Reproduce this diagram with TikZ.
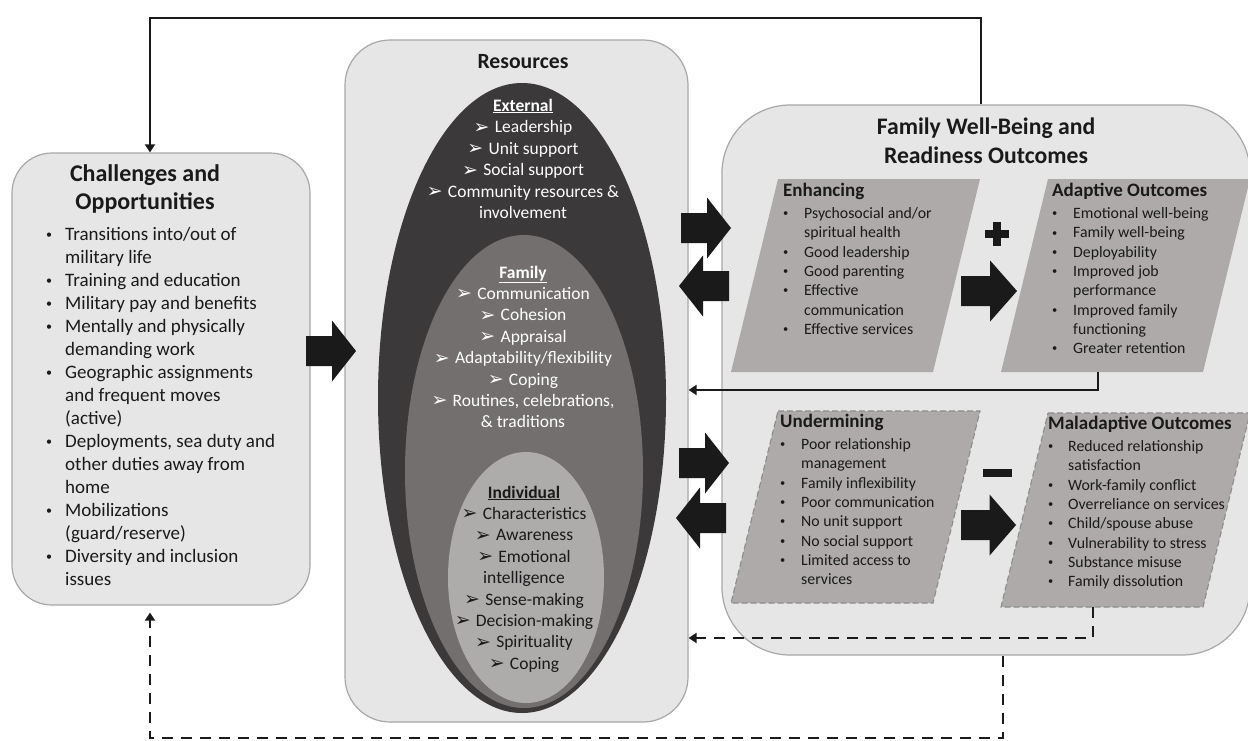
\documentclass[tikz,border=0pt]{standalone}
\usepackage{fontspec}
\setmainfont{Carlito}
\newfontfamily\symfont{DejaVu Sans}
\usetikzlibrary{arrows.meta}

\definecolor{boxfill}{HTML}{E6E6E6}
\definecolor{boxline}{HTML}{A8A8A8}
\definecolor{ringA}{HTML}{3B3939}
\definecolor{ringB}{HTML}{736F6F}
\definecolor{ringC}{HTML}{AEABAB}
\definecolor{panel}{HTML}{AEAAAA}
\definecolor{panelline}{HTML}{8C8C8C}
\definecolor{ink}{HTML}{1A1A1A}

% arrowhead bullet used in the resource lists
\newcommand{\arrbul}{\raisebox{-0.5pt}{\symfont\fontsize{19}{19}\selectfont ➢}\hspace{0.3em}}
% small round bullets for the plain lists
\newcommand{\bigbul}{\raisebox{2.4pt}{\fontsize{12}{12}\selectfont\textbullet}}
\newcommand{\smbul}{\raisebox{1.8pt}{\fontsize{10.5}{10.5}\selectfont\textbullet}}
\newcommand{\sectitle}[1]{\underline{\textbf{#1}}}

\tikzset{
  bigbox/.style={draw=boxline, line width=1.2pt, fill=boxfill, inner sep=0pt},
  panelsolid/.style={fill=panel},
  paneldash/.style={fill=panel, draw=panelline, line width=1.1pt, dash pattern=on 6pt off 3pt},
  txt/.style={inner sep=0pt, text=ink},
  fbsolid/.style={draw=ink, line width=2.8pt, -{Triangle[width=10pt,length=8pt]}},
  fbdash/.style={fbsolid, dash pattern=on 11pt off 8pt},
  blockarrow/.pic={\fill[ink] (0,-15) -- (26,-15) -- (26,-30.5) -- (50,0) -- (26,30.5) -- (26,15) -- (0,15) -- cycle;}
}

\begin{document}
\begin{tikzpicture}[x=1pt,y=-1pt]
\clip (0,0) rectangle (1248,740);
\fill[white] (0,0) rectangle (1248,740);

% ---------- main containers ----------
\node[bigbox, rounded corners=40pt, minimum width=298pt, minimum height=452pt] (chal) at (161,379) {};
\node[bigbox, rounded corners=45pt, minimum width=343pt, minimum height=682pt] (res) at (516.5,381) {};
\node[bigbox, rounded corners=68pt, minimum width=528pt, minimum height=550pt] (fam) at (986,380) {};

% ---------- nested resource ellipses ----------
\fill[ringA] (522,398) ellipse [x radius=144, y radius=315];
\fill[ringB] (524,471.5) ellipse [x radius=119, y radius=236.5];
\fill[ringC] (526,577.5) ellipse [x radius=78, y radius=125.5];

% ---------- challenges text ----------
\node[txt, anchor=north, font=\fontsize{24}{28}\selectfont\bfseries] (chaltitle) at (145,162.1)
  {\begin{tabular}{@{}c@{}}Challenges and\\Opportunities\end{tabular}};
\node[txt, anchor=north west, font=\fontsize{19}{23}\selectfont] (challist) at (46,224.2)
  {\begin{tabular}{@{}p{19pt}@{}l@{}}
  \bigbul & Transitions into/out of\\
   & military life\\
  \bigbul & Training and education\\
  \bigbul & Military pay and benefits\\
  \bigbul & Mentally and physically\\
   & demanding work\\
  \bigbul & Geographic assignments\\
   & and frequent moves\\
   & (active)\\
  \bigbul & Deployments, sea duty and\\
   & other duties away from\\
   & home\\
  \bigbul & Mobilizations\\
   & (guard/reserve)\\
  \bigbul & Diversity and inclusion\\
   & issues
  \end{tabular}};

% ---------- resources text ----------
\node[txt, anchor=base, font=\fontsize{21.7}{24}\selectfont\bfseries] (restitle) at (523,68.5) {Resources};
\node[txt, anchor=north, text=white, font=\fontsize{17.5}{21.5}\selectfont] (external) at (523,95.9)
  {\begin{tabular}{@{}c@{}}
  \sectitle{External}\\
  \arrbul Leadership\\
  \arrbul Unit support\\
  \arrbul Social support\\
  \arrbul Community resources \&\\
  involvement
  \end{tabular}};
\node[txt, anchor=north, text=white, font=\fontsize{17.5}{21.4}\selectfont] (family) at (523,262.9)
  {\begin{tabular}{@{}c@{}}
  \sectitle{Family}\\
  \arrbul Communication\\
  \arrbul Cohesion\\
  \arrbul Appraisal\\
  \arrbul Adaptability/flexibility\\
  \arrbul Coping\\
  \arrbul Routines, celebrations,\\
  \& traditions
  \end{tabular}};
\node[txt, anchor=north, font=\fontsize{17.5}{21.4}\selectfont] (individual) at (524,482.9)
  {\begin{tabular}{@{}c@{}}
  \sectitle{Individual}\\
  \arrbul Characteristics\\
  \arrbul Awareness\\
  \arrbul Emotional\\
  intelligence\\
  \arrbul Sense-making\\
  \arrbul Decision-making\\
  \arrbul Spirituality\\
  \arrbul Coping
  \end{tabular}};

% ---------- outcomes container ----------
\node[txt, anchor=north, font=\fontsize{23.7}{29}\selectfont\bfseries] (famtitle) at (986,114.3)
  {\begin{tabular}{@{}c@{}}Family Well-Being and\\Readiness Outcomes\end{tabular}};

\path[panelsolid] (778,179) -- (980,179) -- (933,372) -- (731,372) -- cycle;
\path[panelsolid] (1048,179) -- (1250,179) -- (1203,372) -- (1001,372) -- cycle;
\path[paneldash] (778,411) -- (980,411) -- (933,603) -- (731,603) -- cycle;
\path[paneldash] (1048,413) -- (1250,413) -- (1203,607) -- (1001,607) -- cycle;

\node[txt, anchor=north west, font=\fontsize{15.8}{19.3}\selectfont] (enh) at (783,182.8)
  {\begin{tabular}{@{}p{21pt}@{}l@{}}
  \multicolumn{2}{@{}l@{}}{\fontsize{19}{19.3}\selectfont\bfseries Enhancing}\\[2.7pt]
  \smbul & Psychosocial and/or\\
   & spiritual health\\
  \smbul & Good leadership\\
  \smbul & Good parenting\\
  \smbul & Effective\\
   & communication\\
  \smbul & Effective services
  \end{tabular}};
\node[txt, anchor=north west, font=\fontsize{15.8}{19.3}\selectfont] (adapt) at (1052,182.8)
  {\begin{tabular}{@{}p{21pt}@{}l@{}}
  \multicolumn{2}{@{}l@{}}{\fontsize{19}{19.3}\selectfont\bfseries Adaptive Outcomes}\\[2.7pt]
  \smbul & Emotional well-being\\
  \smbul & Family well-being\\
  \smbul & Deployability\\
  \smbul & Improved job\\
   & performance\\
  \smbul & Improved family\\
   & functioning\\
  \smbul & Greater retention
  \end{tabular}};
\node[txt, anchor=north west, font=\fontsize{15.8}{19.3}\selectfont] (under) at (780,413.8)
  {\begin{tabular}{@{}p{21pt}@{}l@{}}
  \multicolumn{2}{@{}l@{}}{\fontsize{19}{19.3}\selectfont\bfseries Undermining}\\[2.7pt]
  \smbul & Poor relationship\\
   & management\\
  \smbul & Family inflexibility\\
  \smbul & Poor communication\\
  \smbul & No unit support\\
  \smbul & No social support\\
  \smbul & Limited access to\\
   & services
  \end{tabular}};
\node[txt, anchor=north west, font=\fontsize{15.8}{19.3}\selectfont] (maladapt) at (1048,415.8)
  {\begin{tabular}{@{}p{20pt}@{}l@{}}
  \multicolumn{2}{@{}l@{}}{\fontsize{19}{19.3}\selectfont\bfseries Maladaptive Outcomes}\\[2.7pt]
  \smbul & Reduced relationship\\
   & satisfaction\\
  \smbul & Work-family conflict\\
  \smbul & Overreliance on services\\
  \smbul & Child/spouse abuse\\
  \smbul & Vulnerability to stress\\
  \smbul & Substance misuse\\
  \smbul & Family dissolution
  \end{tabular}};

% plus and minus signs
\fill[ink] (985,230) rectangle (1009,238);
\fill[ink] (993,222) rectangle (1001,246);
\fill[ink] (983,469) rectangle (1012,477);

% ---------- block arrows ----------
\pic at (306,351) {blockarrow};
\pic at (681,228) {blockarrow};
\pic[xscale=-1] at (729,286) {blockarrow};
\pic at (679,463) {blockarrow};
\pic[xscale=-1] at (726,518) {blockarrow};
\pic[xscale=1.12] at (961,291) {blockarrow};
\pic[xscale=1.1] at (961,525) {blockarrow};

% ---------- feedback connectors ----------
\coordinate (topR) at (981,18);
\coordinate (topL) at (150,18);
\coordinate (adaptOut) at (1098,372);
\coordinate (malOut) at (1093,607);
\coordinate (famOut) at (1003,656);
\coordinate (botL) at (150,738);

\draw[fbsolid] (fam.north -| topR) |- (topL) -- (chal.north -| topL);
\draw[fbsolid] (adaptOut) |- (res.east |- 0,390);
\draw[fbdash] (malOut) |- (res.east |- 0,638);
\draw[fbdash, shorten >=7pt] (famOut) |- (botL) -- (chal.south -| botL);

\end{tikzpicture}
\end{document}
